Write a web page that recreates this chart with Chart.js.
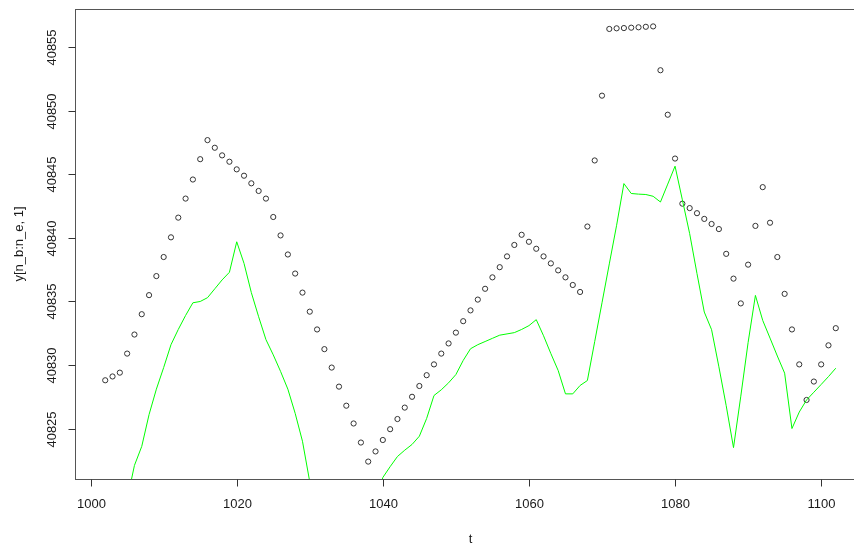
<!DOCTYPE html>
<html>
<head>
<meta charset="utf-8">
<script src="https://cdn.jsdelivr.net/npm/chart.js@4/dist/chart.umd.min.js"></script>
<style>
  html, body { margin: 0; padding: 0; background: #fff; overflow: hidden; width: 854px; height: 546px; }
  #wrap { position: relative; width: 870px; height: 546px; }
</style>
</head>
<body>
<div id="wrap"><canvas id="c" width="870" height="546"></canvas></div>
<script>
// Observed series y[n_b:n_e, 1], one value per t starting at t = 1002
const tStart = 1002;
const observed = [
  40828.8, 40829.1, 40829.4, 40830.9, 40832.4, 40834.0, 40835.5, 40837.0, 40838.5, 40840.05,
  40841.6, 40843.1, 40844.6, 40846.2, 40847.7, 40847.1, 40846.5, 40846.0, 40845.4, 40844.9,
  40844.3, 40843.7, 40843.1, 40841.65, 40840.2, 40838.7, 40837.2, 40835.7, 40834.2, 40832.8,
  40831.25, 40829.8, 40828.3, 40826.8, 40825.4, 40823.9, 40822.4, 40823.2, 40824.1, 40824.95,
  40825.75, 40826.65, 40827.5, 40828.35, 40829.2, 40830.05, 40830.9, 40831.7, 40832.55, 40833.45,
  40834.3, 40835.15, 40836.0, 40836.9, 40837.7, 40838.55, 40839.45, 40840.25, 40839.7, 40839.15,
  40838.55, 40838.0, 40837.45, 40836.9, 40836.3, 40835.75, 40840.9, 40846.1, 40851.2, 40856.45,
  40856.5, 40856.52, 40856.55, 40856.58, 40856.62, 40856.65, 40853.2, 40849.7, 40846.25, 40842.7,
  40842.35, 40841.95, 40841.5, 40841.1, 40840.7, 40838.75, 40836.8, 40834.85, 40837.9, 40840.95,
  40844.0, 40841.2, 40838.5, 40835.6, 40832.8, 40830.05, 40827.25, 40828.7, 40830.05, 40831.55,
  40832.9
];

// Fitted line (green), one value per t starting at t = 1005; gaps where it runs below the frame
const fitStart = 1005;
const fitted = [
  40819.4, 40822.1, 40823.6, 40826.1, 40828.1, 40829.8, 40831.6, 40832.8, 40833.9, 40834.9,
  40835.0, 40835.3, 40836.0, 40836.7, 40837.3, 40839.7, 40838.0, 40835.7, 40833.8, 40832.0,
  40830.8, 40829.5, 40828.1, 40826.2, 40824.0, 40820.8, 40817.5, null, null, null,
  null, null, null, null, 40819.4, 40821.15, 40822.0, 40822.8, 40823.3, 40823.75,
  40824.4, 40825.8, 40827.6, 40828.05, 40828.6, 40829.25, 40830.36, 40831.28, 40831.6, 40831.85,
  40832.1, 40832.35, 40832.45, 40832.55, 40832.8, 40833.1, 40833.57, 40832.3, 40830.9, 40829.57,
  40827.73, 40827.73, 40828.39, 40828.78, 40831.84, 40834.9, 40837.96, 40841.0, 40844.28, 40843.5,
  40843.45, 40843.42, 40843.28, 40842.83, 40844.24, 40845.65, 40843.0, 40840.34, 40837.2, 40834.17,
  40832.78, 40829.86, 40826.8, 40823.5, 40827.55, 40831.78, 40835.48, 40833.51, 40832.12, 40830.71,
  40829.36, 40825.0, 40826.3, 40827.25, 40827.86, 40828.47, 40829.09, 40829.75
];

// Axis tick labels
const xTicks = [1000, 1020, 1040, 1060, 1080, 1100];
const yTicks = [40825, 40830, 40835, 40840, 40845, 40850, 40855];
const xTitle = 't';
const yTitle = 'y[n_b:n_e, 1]';

// Axis ranges: data range widened by 4% on each side
const tEnd = tStart + observed.length - 1;
const xPad = (tEnd - tStart) * 0.04;
const yLo = Math.min(...observed), yHi = Math.max(...observed);
const yPad = (yHi - yLo) * 0.04;

const obsPts = observed.map((v, i) => ({ x: tStart + i, y: v }));
const fitPts = fitted.map((v, i) => ({ x: fitStart + i, y: v }));

const FONT = '13px "Liberation Sans", Arial, sans-serif';
const INK = '#1a1a1a';

// Frame, ticks and labels in the classic boxed style
const boxAxes = {
  id: 'boxAxes',
  afterDraw(chart) {
    const { ctx, chartArea: a, scales: { x, y } } = chart;
    ctx.save();
    const L = Math.round(a.left) - 0.5, T = Math.round(a.top) + 0.5;
    const R = Math.round(a.right) + 0.5, B = Math.round(a.bottom) + 0.5;
    ctx.strokeStyle = '#555';
    ctx.lineWidth = 1;
    ctx.strokeRect(L, T, R - L, B - T);

    ctx.strokeStyle = '#333';
    ctx.fillStyle = INK;
    ctx.font = FONT;

    // x axis
    ctx.textAlign = 'center';
    ctx.textBaseline = 'alphabetic';
    xTicks.forEach(v => {
      const px = Math.round(x.getPixelForValue(v)) + 0.5;
      ctx.beginPath(); ctx.moveTo(px, B); ctx.lineTo(px, B + 7); ctx.stroke();
      ctx.fillText(String(v), px, 508);
    });
    ctx.fillText(xTitle, (a.left + a.right) / 2 - 0, 543);

    // y axis (labels rotated, reading upward)
    yTicks.forEach(v => {
      const py = Math.round(y.getPixelForValue(v)) + 0.5;
      ctx.beginPath(); ctx.moveTo(L, py); ctx.lineTo(L - 7, py); ctx.stroke();
      ctx.save();
      ctx.translate(56, py);
      ctx.rotate(-Math.PI / 2);
      ctx.fillText(String(v), 0, 0);
      ctx.restore();
    });
    ctx.save();
    ctx.translate(23, (a.top + a.bottom) / 2);
    ctx.rotate(-Math.PI / 2);
    ctx.fillText(yTitle, 0, 0);
    ctx.restore();

    ctx.restore();
  }
};

new Chart(document.getElementById('c'), {
  type: 'scatter',
  data: {
    datasets: [
      {
        type: 'line',
        data: fitPts,
        borderColor: '#00ff00',
        borderWidth: 1,
        pointRadius: 0,
        fill: false,
        tension: 0,
        spanGaps: false
      },
      {
        data: obsPts,
        showLine: false,
        pointStyle: 'circle',
        pointRadius: 2.6,
        pointBorderWidth: 1,
        borderColor: '#333',
        backgroundColor: 'rgba(0,0,0,0)'
      }
    ]
  },
  options: {
    responsive: false,
    animation: false,
    devicePixelRatio: 1,
    events: [],
    layout: { padding: { left: 76, right: 5, top: 9, bottom: 67 } },
    plugins: { legend: { display: false }, tooltip: { enabled: false } },
    scales: {
      x: { type: 'linear', min: tStart - xPad, max: tEnd + xPad, display: false },
      y: { type: 'linear', min: yLo - yPad, max: yHi + yPad, display: false }
    }
  },
  plugins: [boxAxes]
});
</script>
</body>
</html>
